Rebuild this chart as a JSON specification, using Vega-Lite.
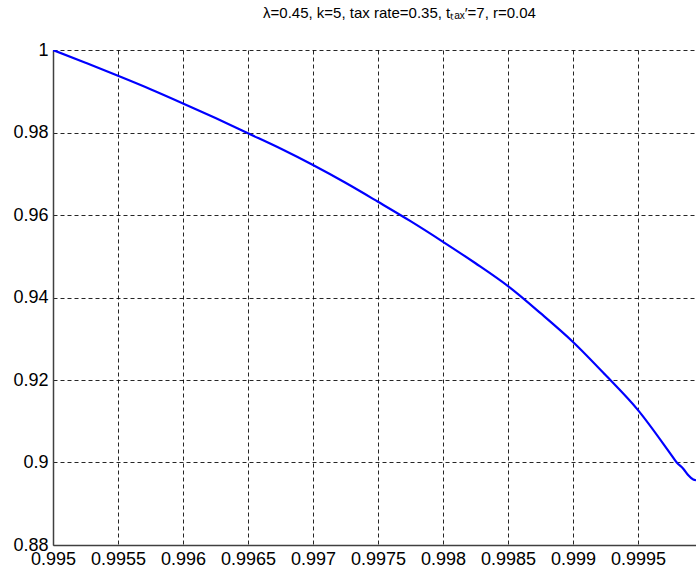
{
  "$schema": "https://vega.github.io/schema/vega-lite/v6.json",
  "autosize": "none",
  "width": 643,
  "height": 495,
  "padding": {"left": 53, "top": 50, "right": 0, "bottom": 31},
  "background": "white",
  "title": {
    "text": "λ=0.45, k=5, tax rate=0.35, tₜₐₓ′=7, r=0.04",
    "font": "Liberation Sans",
    "fontSize": 15,
    "fontWeight": "normal",
    "color": "#000000",
    "anchor": "middle",
    "dx": 25,
    "offset": 20
  },
  "config": {
    "view": {"stroke": null},
    "axis": {
      "labelFont": "Liberation Sans",
      "labelFontSize": 18,
      "labelColor": "#000000",
      "domainColor": "#404040",
      "domainWidth": 1.5,
      "gridColor": "#000000",
      "gridDash": [4, 3],
      "gridWidth": 1,
      "gridOpacity": 0.85,
      "ticks": false,
      "title": null
    }
  },
  "data": {
    "values": [
      {"x": 0.995, "y": 1.0},
      {"x": 0.99525, "y": 0.9969},
      {"x": 0.9955, "y": 0.99375},
      {"x": 0.99575, "y": 0.9905},
      {"x": 0.996, "y": 0.98705},
      {"x": 0.99625, "y": 0.9835},
      {"x": 0.9965, "y": 0.9798},
      {"x": 0.99675, "y": 0.9761},
      {"x": 0.997, "y": 0.9721},
      {"x": 0.99725, "y": 0.9678},
      {"x": 0.9975, "y": 0.9632},
      {"x": 0.99775, "y": 0.9585},
      {"x": 0.998, "y": 0.9535},
      {"x": 0.99825, "y": 0.9483},
      {"x": 0.9985, "y": 0.94275},
      {"x": 0.99875, "y": 0.9362},
      {"x": 0.999, "y": 0.92923},
      {"x": 0.99925, "y": 0.9212},
      {"x": 0.9995, "y": 0.9127},
      {"x": 0.99975, "y": 0.9021},
      {"x": 0.999798, "y": 0.9},
      {"x": 0.999848, "y": 0.8985},
      {"x": 0.999887, "y": 0.8969},
      {"x": 0.999925, "y": 0.89585},
      {"x": 0.999946, "y": 0.8957}
    ]
  },
  "mark": {"type": "line", "color": "#0000FF", "strokeWidth": 2.2, "clip": true, "interpolate": "monotone"},
  "encoding": {
    "x": {
      "field": "x",
      "type": "quantitative",
      "scale": {"domain": [0.995, 0.999946], "nice": false, "zero": false},
      "axis": {
        "values": [0.995, 0.9955, 0.996, 0.9965, 0.997, 0.9975, 0.998, 0.9985, 0.999, 0.9995],
        "format": ".4~f",
        "labelPadding": 5,
        "labelFlush": false
      }
    },
    "y": {
      "field": "y",
      "type": "quantitative",
      "scale": {"domain": [0.88, 1.0], "nice": false, "zero": false},
      "axis": {
        "values": [0.88, 0.9, 0.92, 0.94, 0.96, 0.98, 1.0],
        "format": ".2~f",
        "labelPadding": 5,
        "labelFlush": false
      }
    }
  }
}
